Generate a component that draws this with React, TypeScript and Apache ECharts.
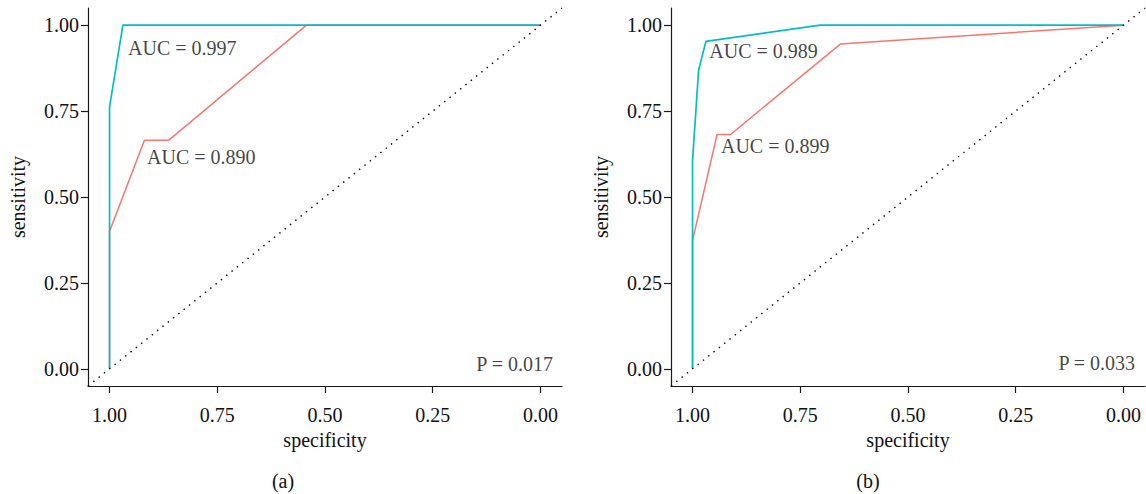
import React, { useEffect, useRef } from "react";
import * as echarts from "echarts";

const tickValues = [0, 0.25, 0.5, 0.75, 1];

// Panel (a)
const specA_red = [1, 1, 0.919, 0.863, 0.543, 0];
const sensA_red = [0, 0.4, 0.665, 0.665, 1, 1];
const specA_cyan = [1, 1, 0.969, 0];
const sensA_cyan = [0, 0.762, 1, 1];

// Panel (b)
const specB_red = [1, 1, 0.943, 0.912, 0.657, 0];
const sensB_red = [0, 0.374, 0.682, 0.682, 0.945, 1];
const specB_cyan = [1, 1, 0.986, 0.969, 0.704, 0];
const sensB_cyan = [0, 0.606, 0.868, 0.953, 1, 1];

// Reference diagonal
const diagSpec = [1.05, -0.05];
const diagSens = [-0.05, 1.05];

// Annotations
const annotPanel = [0, 0, 0, 1, 1, 1];
const annotText = ["AUC = 0.997", "AUC = 0.890", "P = 0.017", "AUC = 0.989", "AUC = 0.899", "P = 0.033"];
const annotSpec = [0.957, 0.913, -0.029, 0.961, 0.934, -0.027];
const annotSens = [0.935, 0.615, 0.014, 0.924, 0.647, 0.017];
const annotAlign = ["left", "left", "right", "left", "left", "right"];

const panelLabels = ["(a)", "(b)"];

const RED = "#F8766D";
const CYAN = "#00BFC4";
const FONT = "Liberation Serif";
const TXT = "#111";

const zip = (a: number[], b: number[]) => a.map((v, i) => [v, b[i]]);

export default function App() {
  const ref = useRef<HTMLDivElement>(null);
  useEffect(() => {
    document.body.style.margin = "0";
    const chart = echarts.init(ref.current!, null, { renderer: "svg" });
    const grids = [
      { left: 88, top: 8, width: 474, height: 378 },
      { left: 671, top: 8, width: 474, height: 378 },
    ];
    const axisCommon = {
      type: "value",
      min: -0.05,
      max: 1.05,
      splitLine: { show: false },
      axisLine: { show: true, onZero: false, lineStyle: { color: "#1a1a1a", width: 1.2 } },
      axisTick: { show: true, length: 7, customValues: tickValues, lineStyle: { color: "#1a1a1a", width: 1.2 } },
      nameLocation: "middle",
      nameTextStyle: { fontFamily: FONT, fontSize: 20, color: TXT },
    };
    const xAxes = [0, 1].map((g) => ({
      ...axisCommon,
      gridIndex: g,
      inverse: true,
      name: "specificity",
      nameGap: 43,
      axisLabel: {
        customValues: tickValues,
        formatter: (v: number) => v.toFixed(2),
        fontFamily: FONT,
        fontSize: 20,
        color: TXT,
        margin: 19,
      },
    }));
    const yAxes = [0, 1].map((g) => ({
      ...axisCommon,
      gridIndex: g,
      name: "sensitivity",
      nameGap: 60,
      axisLabel: {
        customValues: tickValues,
        formatter: (v: number) => v.toFixed(2),
        fontFamily: FONT,
        fontSize: 20,
        color: TXT,
        margin: 9,
      },
    }));
    const panels = [
      { red: zip(specA_red, sensA_red), cyan: zip(specA_cyan, sensA_cyan) },
      { red: zip(specB_red, sensB_red), cyan: zip(specB_cyan, sensB_cyan) },
    ];
    const series: any[] = [];
    panels.forEach((p, g) => {
      series.push({
        type: "line",
        xAxisIndex: g,
        yAxisIndex: g,
        data: p.red,
        symbol: "none",
        lineStyle: { color: RED, width: 1.5 },
        z: 2,
      });
      series.push({
        type: "line",
        xAxisIndex: g,
        yAxisIndex: g,
        data: p.cyan,
        symbol: "none",
        lineStyle: { color: CYAN, width: 1.7 },
        z: 3,
      });
      series.push({
        type: "line",
        xAxisIndex: g,
        yAxisIndex: g,
        data: zip(diagSpec, diagSens),
        symbol: "none",
        lineStyle: { color: "#000", width: 1.4, type: [1.4, 5.4] },
        z: 4,
      });
      const idx = annotPanel.map((pp, i) => (pp === g ? i : -1)).filter((i) => i >= 0);
      series.push({
        type: "scatter",
        xAxisIndex: g,
        yAxisIndex: g,
        symbolSize: 0,
        z: 5,
        data: idx.map((i) => ({
          value: [annotSpec[i], annotSens[i]],
          label: {
            show: true,
            formatter: annotText[i],
            position: [0, 0],
            align: annotAlign[i],
            verticalAlign: "middle",
            fontFamily: FONT,
            fontSize: 20,
            color: TXT,
          },
        })),
      });
    });
    chart.setOption({
      animation: false,
      grid: grids,
      xAxis: xAxes,
      yAxis: yAxes,
      series,
      graphic: [
        { type: "text", x: 283, y: 481, style: { text: panelLabels[0], font: `20px "${FONT}"`, fill: TXT, textAlign: "center", textVerticalAlign: "middle" } },
        { type: "text", x: 868, y: 481, style: { text: panelLabels[1], font: `20px "${FONT}"`, fill: TXT, textAlign: "center", textVerticalAlign: "middle" } },
      ],
    });
    return () => chart.dispose();
  }, []);
  return <div ref={ref} style={{ width: 1146, height: 494 }} />;
}
